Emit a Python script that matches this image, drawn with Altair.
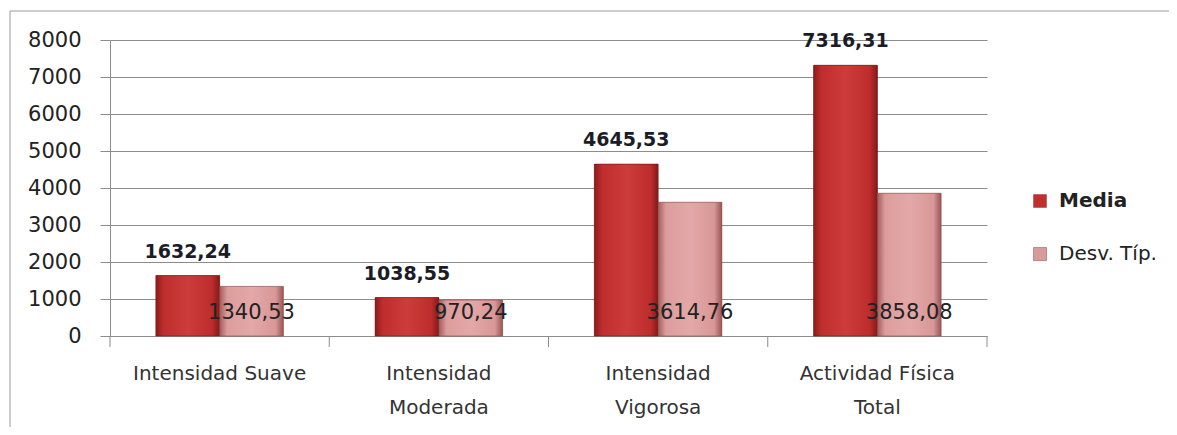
import altair as alt
import pandas as pd

categorias = ["Intensidad Suave", "Intensidad|Moderada", "Intensidad|Vigorosa", "Actividad Física|Total"]
series = ["Media", "Desv. Típ."]
media = [1632.24, 1038.55, 4645.53, 7316.31]
desv = [1340.53, 970.24, 3614.76, 3858.08]

rows = []
for c, m, d in zip(categorias, media, desv):
    rows.append({"cat": c, "serie": "Media", "valor": m, "base": 0,
                 "etiqueta": f"{m:.2f}".replace(".", ",")})
    rows.append({"cat": c, "serie": "Desv. Típ.", "valor": d, "base": 0,
                 "etiqueta": f"{d:.2f}".replace(".", ",")})
df = pd.DataFrame(rows)

FONT = "DejaVu Sans"
GRAY = "#8c8c8c"
W, H = 877, 296

x_scale = alt.Scale(domain=categorias, paddingInner=0, paddingOuter=0)
x_axis = alt.Axis(title=None, labelAngle=0, labelExpr="split(datum.label, '|')",
                  labelFont=FONT, labelFontSize=20, labelColor="#333333",
                  labelLineHeight=34, labelPadding=27, ticks=False, labelLimit=400,
                  domainColor=GRAY, domainWidth=1, grid=False)
X = alt.X("cat:N", sort=categorias, scale=x_scale, axis=x_axis)
XO = alt.XOffset("serie:N", sort=series,
                 scale=alt.Scale(domain=series, paddingOuter=0.72, paddingInner=0))
y_scale = alt.Scale(domain=[0, 8000], nice=False)
y_axis = alt.Axis(title=None, values=list(range(0, 8001, 1000)), format="d",
                  labelOverlap=False, labelFont=FONT, labelFontSize=21,
                  labelColor="#222222", labelPadding=19, tickSize=10, tickColor=GRAY,
                  domainColor=GRAY, gridColor=GRAY, gridWidth=1, grid=True)
Y = alt.Y("valor:Q", scale=y_scale, axis=y_axis)
Y0 = alt.Y("base:Q", scale=y_scale, axis=y_axis)

base = alt.Chart(df)

legend_bars = base.mark_bar().encode(
    x=X, xOffset=XO, y=Y,
    color=alt.Color("serie:N", sort=series,
                    scale=alt.Scale(domain=series, range=["#C2302E", "#D99A9A"]),
                    legend=alt.Legend(title=None, orient="none", legendX=920, legendY=151,
                                      symbolType="square", symbolSize=170,
                                      symbolStrokeColor="#8a4a4a", symbolStrokeWidth=0.5,
                                      labelFont=FONT, labelFontSize=20, labelColor="#222222",
                                      labelFontWeight=alt.ExprRef("datum.label == 'Media' ? 'bold' : 'normal'"),
                                      labelOffset=9, rowPadding=33)),
)

grad_media = alt.Gradient(gradient="linear", x1=0, x2=1, y1=0, y2=0, stops=[
    alt.GradientStop(offset=0, color="#8E1B1B"),
    alt.GradientStop(offset=0.12, color="#BF2E2E"),
    alt.GradientStop(offset=0.5, color="#CC3C3A"),
    alt.GradientStop(offset=0.88, color="#BD2D2D"),
    alt.GradientStop(offset=1, color="#861818"),
])
grad_desv = alt.Gradient(gradient="linear", x1=0, x2=1, y1=0, y2=0, stops=[
    alt.GradientStop(offset=0, color="#A35C5C"),
    alt.GradientStop(offset=0.12, color="#DC9C9C"),
    alt.GradientStop(offset=0.5, color="#E4A8A8"),
    alt.GradientStop(offset=0.88, color="#D99797"),
    alt.GradientStop(offset=1, color="#9A5454"),
])

bars_media = base.transform_filter(alt.datum.serie == "Media").mark_bar(
    color=grad_media, stroke="#6e1414", strokeWidth=0.6).encode(x=X, xOffset=XO, y=Y)
bars_desv = base.transform_filter(alt.datum.serie == "Desv. Típ.").mark_bar(
    color=grad_desv, stroke="#8a4a4a", strokeWidth=0.6).encode(x=X, xOffset=XO, y=Y)

text_media = base.transform_filter(alt.datum.serie == "Media").mark_text(
    font=FONT, fontSize=19, fontWeight="bold", color="#1c1c28",
    baseline="alphabetic", dy=-18).encode(x=X, xOffset=XO, y=Y, text="etiqueta:N")
text_desv = base.transform_filter(alt.datum.serie == "Desv. Típ.").mark_text(
    font=FONT, fontSize=21, color="#222222",
    baseline="alphabetic", dy=-17).encode(x=X, xOffset=XO, y=Y0, text="etiqueta:N")

ticks_left = base.transform_filter(alt.datum.serie == "Media").mark_rule(
    color=GRAY, strokeWidth=1).encode(
    x=alt.X("cat:N", sort=categorias, scale=x_scale, axis=x_axis, bandPosition=0),
    y=alt.value(H), y2=alt.value(H + 11))
ticks_right = base.transform_filter(alt.datum.cat == categorias[-1]).transform_filter(
    alt.datum.serie == "Media").mark_rule(color=GRAY, strokeWidth=1).encode(
    x=alt.X("cat:N", sort=categorias, scale=x_scale, axis=x_axis, bandPosition=1),
    y=alt.value(H), y2=alt.value(H + 11))

one = pd.DataFrame({"k": [0]})
frame_top = alt.Chart(one).mark_rule(color="#9a9a9a", strokeWidth=1).encode(
    x=alt.value(-100), x2=alt.value(1100), y=alt.value(-29))
frame_left = alt.Chart(one).mark_rule(color="#9a9a9a", strokeWidth=1).encode(
    x=alt.value(-100), y=alt.value(-29), y2=alt.value(450))

chart = alt.layer(frame_top, frame_left, legend_bars, bars_media, bars_desv,
                  ticks_left, ticks_right, text_media, text_desv).properties(
    width=W, height=H,
    autosize=alt.AutoSizeParams(type="none"),
    padding={"left": 102, "top": 32, "right": 182, "bottom": 91},
    background="white",
).configure_view(stroke=None)

chart.save("out.html", embed_options={"renderer": "svg", "actions": False})
